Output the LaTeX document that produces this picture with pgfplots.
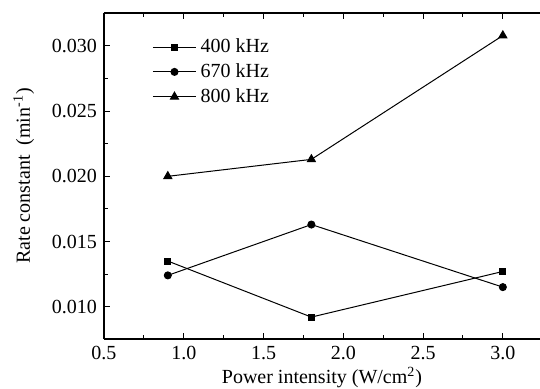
\documentclass[border=0pt]{standalone}
\usepackage{pgfplots}
\pgfplotsset{compat=1.18}
\usepackage{fontspec}
\setmainfont{Liberation Serif}
\begin{document}
\begin{tikzpicture}
\useasboundingbox (-52pt,-25pt) rectangle (218pt,169.5pt);
\begin{axis}[
  at={(0,0)}, anchor=south west,
  scale only axis, width=218pt, height=163pt,
  xmin=0.5, xmax=3.233, ymin=0.00752, ymax=0.03253,
  axis x line=box, axis y line=left,
  y axis line style={-}, x axis line style={-},
  axis line style={line width=0.6pt},
  tick align=inside,
  major tick length=3pt, minor tick length=1.8pt,
  tick style={line width=0.5pt, black},
  xtick={0.5,1.0,1.5,2.0,2.5,3.0},
  minor xtick={0.75,1.25,1.75,2.25,2.75},
  ytick={0.010,0.015,0.020,0.025,0.030},
  minor ytick={0.0075,0.0125,0.0175,0.0225,0.0275,0.0325},
  scaled y ticks=false,
  yticklabel style={/pgf/number format/.cd, fixed, fixed zerofill, precision=3},
  xticklabel style={/pgf/number format/.cd, fixed, fixed zerofill, precision=1},
  /pgf/number format/assume math mode=true,
  tick label style={font=\fontsize{10}{12}\selectfont},
  label style={font=\fontsize{10}{12}\selectfont},
  xlabel={Power intensity (W/cm\textsuperscript{2})},
  ylabel={Rate constant\ \ (min\textsuperscript{-1})},
  xlabel style={yshift=3pt},
  ylabel style={yshift=2pt},
  legend style={at={(0.11,0.935)}, anchor=north west, draw=none, fill=none,
    font=\fontsize{10}{12}\selectfont, row sep=0pt, inner sep=0pt},
  legend cell align=left,
  legend image code/.code={\draw[mark repeat=2,mark phase=2,#1] plot coordinates {(0cm,0cm)(0.38cm,0cm)(0.76cm,0cm)};},
  every axis plot/.append style={black, line width=0.5pt},
]
\addplot[mark=square*, mark size=1.5pt] coordinates {(0.9,0.0135) (1.8,0.0092) (3.0,0.0127)};
\addplot[mark=*, mark size=1.75pt] coordinates {(0.9,0.0124) (1.8,0.0163) (3.0,0.0115)};
\addplot[mark=triangle*, mark size=2.3pt] coordinates {(0.9,0.0200) (1.8,0.0213) (3.0,0.0308)};
\legend{400 kHz,670 kHz,800 kHz}
\end{axis}
\end{tikzpicture}
\end{document}
